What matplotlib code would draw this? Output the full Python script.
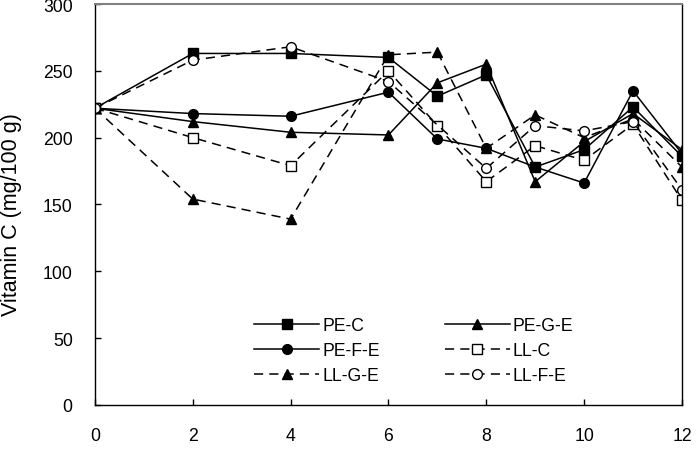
"""
Vitamin C content over storage time for six packaging treatments.
Saves the chart as out.png.
"""

import matplotlib
matplotlib.use("Agg")
import matplotlib.pyplot as plt

plt.rcParams["font.family"] = ["Liberation Sans", "DejaVu Sans"]

# storage days
days = [0, 2, 4, 6, 7, 8, 9, 10, 11, 12]
days_ll_fe = [0, 2, 4, 6, 8, 9, 10, 11, 12]

# vitamin C (mg/100 g)
pe_c = [222, 263, 263, 260, 231, 247, 178, 191, 223, 186]
pe_g_e = [222, 212, 204, 202, 241, 255, 167, 197, 218, 191]
pe_f_e = [222, 218, 216, 234, 199, 192, 178, 166, 235, 188]
ll_c = [222, 200, 179, 250, 209, 167, 194, 183, 210, 153]
ll_g_e = [222, 154, 139, 262, 264, 192, 217, 200, 214, 178]
ll_f_e = [222, 258, 268, 242, 177, 209, 205, 212, 161]

y_ticks = [0, 50, 100, 150, 200, 250, 300]
x_ticks = [0, 2, 4, 6, 8, 10, 12]

DASH = (0, (6, 4))

fig = plt.figure(figsize=(6.98, 4.56), dpi=100)
ax = fig.add_axes([0.136, 0.110, 0.841, 0.879])

common = dict(color="black", linewidth=1.1, markersize=7)
lines = []
lines += ax.plot(days, pe_c, "-", marker="s", label="PE-C", **common)
lines += ax.plot(days, pe_g_e, "-", marker="^", label="PE-G-E", **common)
lines += ax.plot(days, pe_f_e, "-", marker="o", label="PE-F-E", **common)
lines += ax.plot(days, ll_c, linestyle=DASH, marker="s", markerfacecolor="white",
                 label="LL-C", **common)
lines += ax.plot(days, ll_g_e, linestyle=DASH, marker="^", label="LL-G-E", **common)
lines += ax.plot(days_ll_fe, ll_f_e, linestyle=DASH, marker="o", markerfacecolor="white",
                 label="LL-F-E", **common)

ax.set_xlim(0, 12)
ax.set_ylim(0, 300)
ax.set_xticks(x_ticks)
ax.set_yticks(y_ticks)
ax.tick_params(direction="in", length=4, width=1, labelsize=12.7, pad=16)
ax.set_ylabel("Vitamin C (mg/100 g)", fontsize=15.5)
ax.yaxis.set_label_coords(-0.124, 0.478)

for side in ["left", "bottom", "right"]:
    ax.spines[side].set_color("black")
    ax.spines[side].set_linewidth(1.0)
ax.spines["top"].set_color("#808080")
ax.spines["top"].set_linewidth(1.5)

# legend filled row by row: PE-C/PE-G-E, PE-F-E/LL-C, LL-G-E/LL-F-E
order = [0, 2, 4, 1, 3, 5]
ax.legend([lines[i] for i in order], [lines[i].get_label() for i in order],
          ncol=2, frameon=False, loc="center", bbox_to_anchor=(0.543, 0.135),
          fontsize=12.7, handlelength=3.7, handletextpad=0.15,
          columnspacing=3.7, labelspacing=0.46, borderpad=0)

fig.savefig("out.png", dpi=100)
plt.close(fig)
